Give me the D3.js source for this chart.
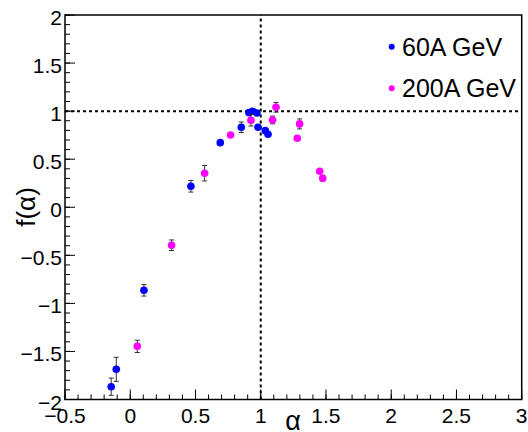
<!DOCTYPE html>
<html>
<head>
<meta charset="utf-8">
<script src="https://cdn.jsdelivr.net/npm/d3@7"></script>
<style>
  html, body { margin: 0; padding: 0; background: #fff; }
  svg { display: block; font-family: "Liberation Sans", Arial, Helvetica, sans-serif; }
</style>
</head>
<body>
<svg id="chart" width="528" height="432"></svg>
<script>
// ---- data ----
const series60Alpha = [-0.146, -0.107, 0.105, 0.465, 0.69, 0.851, 0.91, 0.938, 0.971, 0.979, 1.035, 1.056];
const series60F     = [-1.867, -1.686, -0.864, 0.218, 0.672, 0.832, 0.984, 0.999, 0.981, 0.832, 0.797, 0.759];
const series60Err   = [0.09, 0.125, 0.06, 0.06, 0.0, 0.055, 0.0, 0.0, 0.0, 0.0, 0.0, 0.0];

const series200Alpha = [0.054, 0.317, 0.57, 0.769, 0.925, 1.091, 1.117, 1.28, 1.298, 1.452, 1.475];
const series200F     = [-1.447, -0.395, 0.354, 0.752, 0.905, 0.908, 1.04, 0.718, 0.867, 0.375, 0.302];
const series200Err   = [0.064, 0.055, 0.08, 0.0, 0.06, 0.04, 0.05, 0.0, 0.052, 0.0, 0.03];

const seriesNames = ["60A GeV", "200A GeV"];
const seriesColors = ["#0000ff", "#ff00ff"];

const xTickValues = [-0.5, 0, 0.5, 1, 1.5, 2, 2.5, 3];
const yTickValues = [-2, -1.5, -1, -0.5, 0, 0.5, 1, 1.5, 2];
const xDomain = [-0.5, 3];
const yDomain = [-2, 2];
const refX = 1, refY = 1;

// ---- layout ----
const svg = d3.select("#chart");
const L = 65, R = 521.7, T = 15, B = 399.5;
const x = d3.scaleLinear().domain(xDomain).range([L, R]);
const y = d3.scaleLinear().domain(yDomain).range([B, T]);

const fmt = v => (v < 0 ? "\u2212" : "") + String(Math.abs(v));

// minor ticks
const xMinor = d3.range(-0.5, 3.0001, 0.1).map(v => +v.toFixed(2));
const yMinor = d3.range(-2, 2.0001, 0.1).map(v => +v.toFixed(2));

const gx = svg.append("g");
gx.selectAll("line.minor").data(xMinor).join("line")
  .attr("x1", d => x(d)).attr("x2", d => x(d))
  .attr("y1", B).attr("y2", B - 5)
  .attr("stroke", "#000").attr("stroke-width", 1);
gx.selectAll("line.major").data(xTickValues).join("line")
  .attr("x1", d => x(d)).attr("x2", d => x(d))
  .attr("y1", B).attr("y2", B - 10)
  .attr("stroke", "#000").attr("stroke-width", 1);
gx.selectAll("text").data(xTickValues).join("text")
  .attr("x", d => x(d)).attr("y", 423)
  .attr("text-anchor", "middle")
  .attr("font-size", 21)
  .text(fmt);

const gy = svg.append("g");
gy.selectAll("line.minor").data(yMinor).join("line")
  .attr("x1", L).attr("x2", L + 5)
  .attr("y1", d => y(d)).attr("y2", d => y(d))
  .attr("stroke", "#000").attr("stroke-width", 1);
gy.selectAll("line.major").data(yTickValues).join("line")
  .attr("x1", L).attr("x2", L + 10)
  .attr("y1", d => y(d)).attr("y2", d => y(d))
  .attr("stroke", "#000").attr("stroke-width", 1);
gy.selectAll("text").data(yTickValues).join("text")
  .attr("x", 62).attr("y", d => y(d) + 10)
  .attr("text-anchor", "end")
  .attr("font-size", 21)
  .text(fmt);

// frame
svg.append("rect")
  .attr("x", L).attr("y", T).attr("width", R - L).attr("height", B - T)
  .attr("fill", "none").attr("stroke", "#000").attr("stroke-width", 1.5);

// reference dashed lines
svg.append("line")
  .attr("x1", x(xDomain[0])).attr("x2", x(xDomain[1]))
  .attr("y1", y(refY)).attr("y2", y(refY))
  .attr("stroke", "#000").attr("stroke-width", 2).attr("stroke-dasharray", "3,3");
svg.append("line")
  .attr("x1", x(refX)).attr("x2", x(refX))
  .attr("y1", y(yDomain[0])).attr("y2", y(yDomain[1]))
  .attr("stroke", "#000").attr("stroke-width", 2).attr("stroke-dasharray", "3,3");

// data
const seriesData = [
  series60Alpha.map((a, i) => ({ a, f: series60F[i], e: series60Err[i] })),
  series200Alpha.map((a, i) => ({ a, f: series200F[i], e: series200Err[i] }))
];

seriesData.forEach((pts, si) => {
  const g = svg.append("g");
  const eb = pts.filter(p => p.e > 0);
  g.selectAll("line.err").data(eb).join("line")
    .attr("x1", d => x(d.a)).attr("x2", d => x(d.a))
    .attr("y1", d => y(d.f - d.e)).attr("y2", d => y(d.f + d.e))
    .attr("stroke", "#333").attr("stroke-width", 1);
  ["lo", "hi"].forEach(k => {
    g.selectAll("line.cap" + k).data(eb).join("line")
      .attr("x1", d => x(d.a) - 2.5).attr("x2", d => x(d.a) + 2.5)
      .attr("y1", d => y(k === "lo" ? d.f - d.e : d.f + d.e))
      .attr("y2", d => y(k === "lo" ? d.f - d.e : d.f + d.e))
      .attr("stroke", "#333").attr("stroke-width", 1);
  });
  g.selectAll("circle").data(pts).join("circle")
    .attr("cx", d => x(d.a)).attr("cy", d => y(d.f))
    .attr("r", 3.8).attr("fill", seriesColors[si]);
});

// legend
const legY = [46.7, 88.3];
seriesNames.forEach((n, i) => {
  svg.append("circle").attr("cx", 391.7).attr("cy", legY[i]).attr("r", 3).attr("fill", seriesColors[i]);
  svg.append("text").attr("x", 402).attr("y", legY[i] + 9)
    .attr("font-size", 25).text(n);
});

// axis titles
svg.append("text")
  .attr("transform", "translate(35,207) rotate(-90)")
  .attr("text-anchor", "middle")
  .attr("font-size", 26)
  .text("f(\u03b1)");
svg.append("text")
  .attr("x", 293).attr("y", 430)
  .attr("text-anchor", "middle")
  .attr("font-size", 27)
  .text("\u03b1");
</script>
</body>
</html>
